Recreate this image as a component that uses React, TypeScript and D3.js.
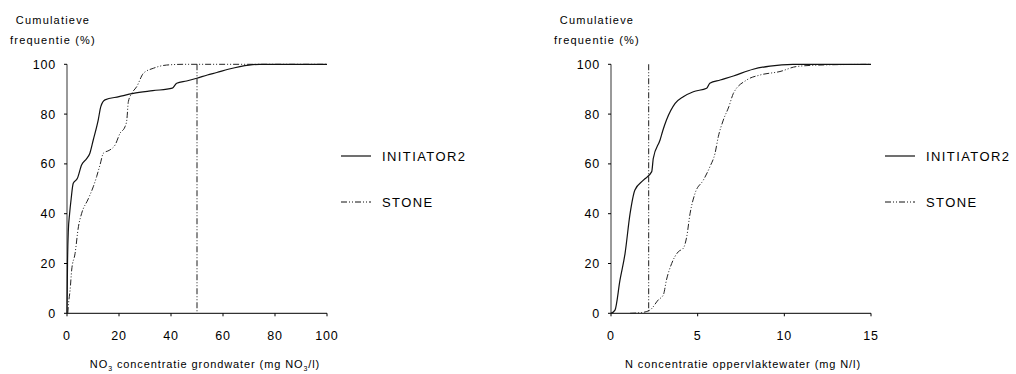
import * as d3 from "d3";
import { useEffect, useRef } from "react";

// left panel: NO3 in groundwater (mg NO3/l) vs cumulative frequency (%)
const leftInitX = [0, 0.2, 0.5, 1, 1.6, 2.4, 4, 5.6, 7.5, 8.8, 10.1, 12, 13, 14.6, 20, 25.5, 33, 40.5, 42.2, 46, 49.9, 54, 57.6, 62, 66.5, 70, 74, 100];
const leftInitY = [0, 20, 33, 40, 46, 52.2, 54.2, 59.6, 62, 64.3, 69.6, 77.6, 83, 85.7, 87, 88.3, 89.4, 90.4, 92.4, 93.3, 94.4, 95.7, 96.7, 98, 99.1, 99.7, 100, 100];
const leftStoneX = [0.3, 0.6, 1.2, 1.8, 3.1, 4.4, 5.6, 8.2, 10.1, 11.4, 12.7, 14, 16.5, 18.5, 20.4, 22.3, 23, 23.6, 24.9, 26.8, 29.4, 33.2, 38.3, 45, 100];
const leftStoneY = [0, 4, 9.4, 17.4, 24, 34.8, 40, 46, 50.8, 54.9, 59.6, 64.3, 65.6, 67.6, 72.3, 74.9, 77.6, 85, 88.3, 91, 96.4, 98.4, 99.7, 100, 100];
const leftVertical = 50;

// right panel: N in surface water (mg N/l)
const rightInitX = [0, 0.23, 0.52, 0.81, 1.1, 1.38, 1.87, 2.35, 2.44, 2.83, 3.0, 3.2, 3.7, 4.17, 4.75, 5.52, 5.7, 6.3, 7.06, 8.2, 9.17, 10.5, 15];
const rightInitY = [0, 1.3, 13.4, 24, 40, 49.5, 53.5, 56.9, 62.2, 69.6, 73.6, 77.6, 84.3, 87, 89, 90.4, 92.4, 93.7, 95.3, 98, 99.3, 100, 100];
const rightStoneX = [1.1, 1.77, 2.25, 2.73, 3.02, 3.2, 3.5, 3.88, 4.17, 4.37, 4.56, 4.85, 5.33, 5.71, 6.0, 6.19, 6.48, 6.8, 7.06, 7.83, 8.6, 9.75, 10.7, 12.06, 15];
const rightStoneY = [0, 0.3, 1.3, 5.4, 7.4, 13.4, 20, 24.7, 26.1, 30.8, 40, 48.2, 53.5, 58.9, 64.2, 70.9, 77.6, 83, 88.3, 93.7, 95.7, 97.1, 99.1, 99.7, 100];
const rightVertical = 2.17;

const yTicks = [0, 20, 40, 60, 80, 100];
const leftXTicks = [0, 20, 40, 60, 80, 100];
const rightXTicks = [0, 5, 10, 15];
const seriesNames = ["INITIATOR2", "STONE"];

const FONT = "'Liberation Sans', Arial, Helvetica, sans-serif";
const DASH = "6,2,1,2,1,2";

const panels = [
    { left: 67, xMax: 100, xTicks: leftXTicks, init: [leftInitX, leftInitY], stone: [leftStoneX, leftStoneY], vline: leftVertical, legendX: 341, labelCx: 205, titleCx: 53, label: "no3" },
    { left: 611, xMax: 15, xTicks: rightXTicks, init: [rightInitX, rightInitY], stone: [rightStoneX, rightStoneY], vline: rightVertical, legendX: 885, labelCx: 743, titleCx: 597, label: "n" },
];

const App = () => {
    const svgRef = useRef(null);

    useEffect(() => {
        const svg = d3.select(svgRef.current);
        svg.selectAll("*").remove();

        const width = 260;
        const top = 64.3;
        const bottom = 313.3;

        panels.forEach(p => {
            const x = d3.scaleLinear().domain([0, p.xMax]).range([p.left, p.left + width]);
            const y = d3.scaleLinear().domain([0, 100]).range([bottom, top]);
            const g = svg.append("g");

            // titles
            const title = g.append("text")
                .attr("font-family", FONT).attr("font-size", 11).attr("letter-spacing", 1.2)
                .attr("text-anchor", "middle").attr("fill", "#000");
            title.append("tspan").attr("x", p.titleCx).attr("y", 24).text("Cumulatieve");
            title.append("tspan").attr("x", p.titleCx).attr("y", 44).text("frequentie (%)");

            // y axis
            g.append("line").attr("x1", p.left).attr("x2", p.left).attr("y1", top).attr("y2", bottom)
                .attr("stroke", "#555").attr("stroke-width", 1.2);
            yTicks.forEach(t => {
                g.append("line").attr("x1", p.left - 3).attr("x2", p.left).attr("y1", y(t)).attr("y2", y(t))
                    .attr("stroke", "#000");
                g.append("text").attr("x", p.left - 11).attr("y", y(t)).attr("dy", "0.36em")
                    .attr("text-anchor", "end").attr("font-family", FONT).attr("font-size", 12.5)
                    .attr("letter-spacing", 0.8).text(t);
            });

            // x axis
            g.append("line").attr("x1", p.left).attr("x2", p.left + width).attr("y1", bottom).attr("y2", bottom)
                .attr("stroke", "#000").attr("stroke-width", 1);
            p.xTicks.forEach(t => {
                g.append("line").attr("x1", x(t)).attr("x2", x(t)).attr("y1", bottom).attr("y2", bottom + 3)
                    .attr("stroke", "#000");
                g.append("text").attr("x", x(t)).attr("y", 335).attr("dy", "0.36em")
                    .attr("text-anchor", "middle").attr("font-family", FONT).attr("font-size", 12.5)
                    .attr("letter-spacing", 0.8).text(t);
            });

            // vertical reference line
            g.append("line").attr("x1", x(p.vline)).attr("x2", x(p.vline)).attr("y1", y(100)).attr("y2", y(0))
                .attr("stroke", "#444").attr("stroke-width", 1.2).attr("stroke-dasharray", DASH);

            const line = d3.line().x(d => x(d[0])).y(d => y(d[1])).curve(d3.curveMonotoneX);
            const initPts = p.init[0].map((v, i) => [v, p.init[1][i]]);
            const stonePts = p.stone[0].map((v, i) => [v, p.stone[1][i]]);

            g.append("path").attr("d", line(stonePts)).attr("fill", "none")
                .attr("stroke", "#222").attr("stroke-width", 1).attr("stroke-dasharray", DASH);
            g.append("path").attr("d", line(initPts)).attr("fill", "none")
                .attr("stroke", "#111").attr("stroke-width", 1.2);

            // legend
            seriesNames.forEach((name, i) => {
                const ly = 156 + i * 46;
                g.append("line").attr("x1", p.legendX).attr("x2", p.legendX + 30).attr("y1", ly).attr("y2", ly)
                    .attr("stroke", "#111").attr("stroke-width", i === 0 ? 1.2 : 1)
                    .attr("stroke-dasharray", i === 0 ? null : DASH);
                g.append("text").attr("x", p.legendX + 41).attr("y", ly).attr("dy", "0.36em")
                    .attr("font-family", FONT).attr("font-size", 13).attr("letter-spacing", 1.4)
                    .text(name);
            });

            // x axis label
            const lab = g.append("text").attr("x", p.labelCx).attr("y", 368)
                .attr("text-anchor", "middle").attr("font-family", FONT).attr("font-size", 11)
                .attr("letter-spacing", 0.9);
            if (p.label === "no3") {
                lab.append("tspan").text("NO");
                lab.append("tspan").attr("font-size", 7).attr("dy", 2.5).text("3");
                lab.append("tspan").attr("dy", -2.5).text(" concentratie grondwater (mg NO");
                lab.append("tspan").attr("font-size", 7).attr("dy", 2.5).text("3");
                lab.append("tspan").attr("dy", -2.5).text("/l)");
            } else {
                lab.text("N concentratie oppervlaktewater (mg N/l)");
            }
        });
    }, []);

    return (
        <svg ref={svgRef} width={1016} height={374}
            style={{ position: "absolute", left: 0, top: 0, background: "#fff" }} />
    );
};

export default App;
